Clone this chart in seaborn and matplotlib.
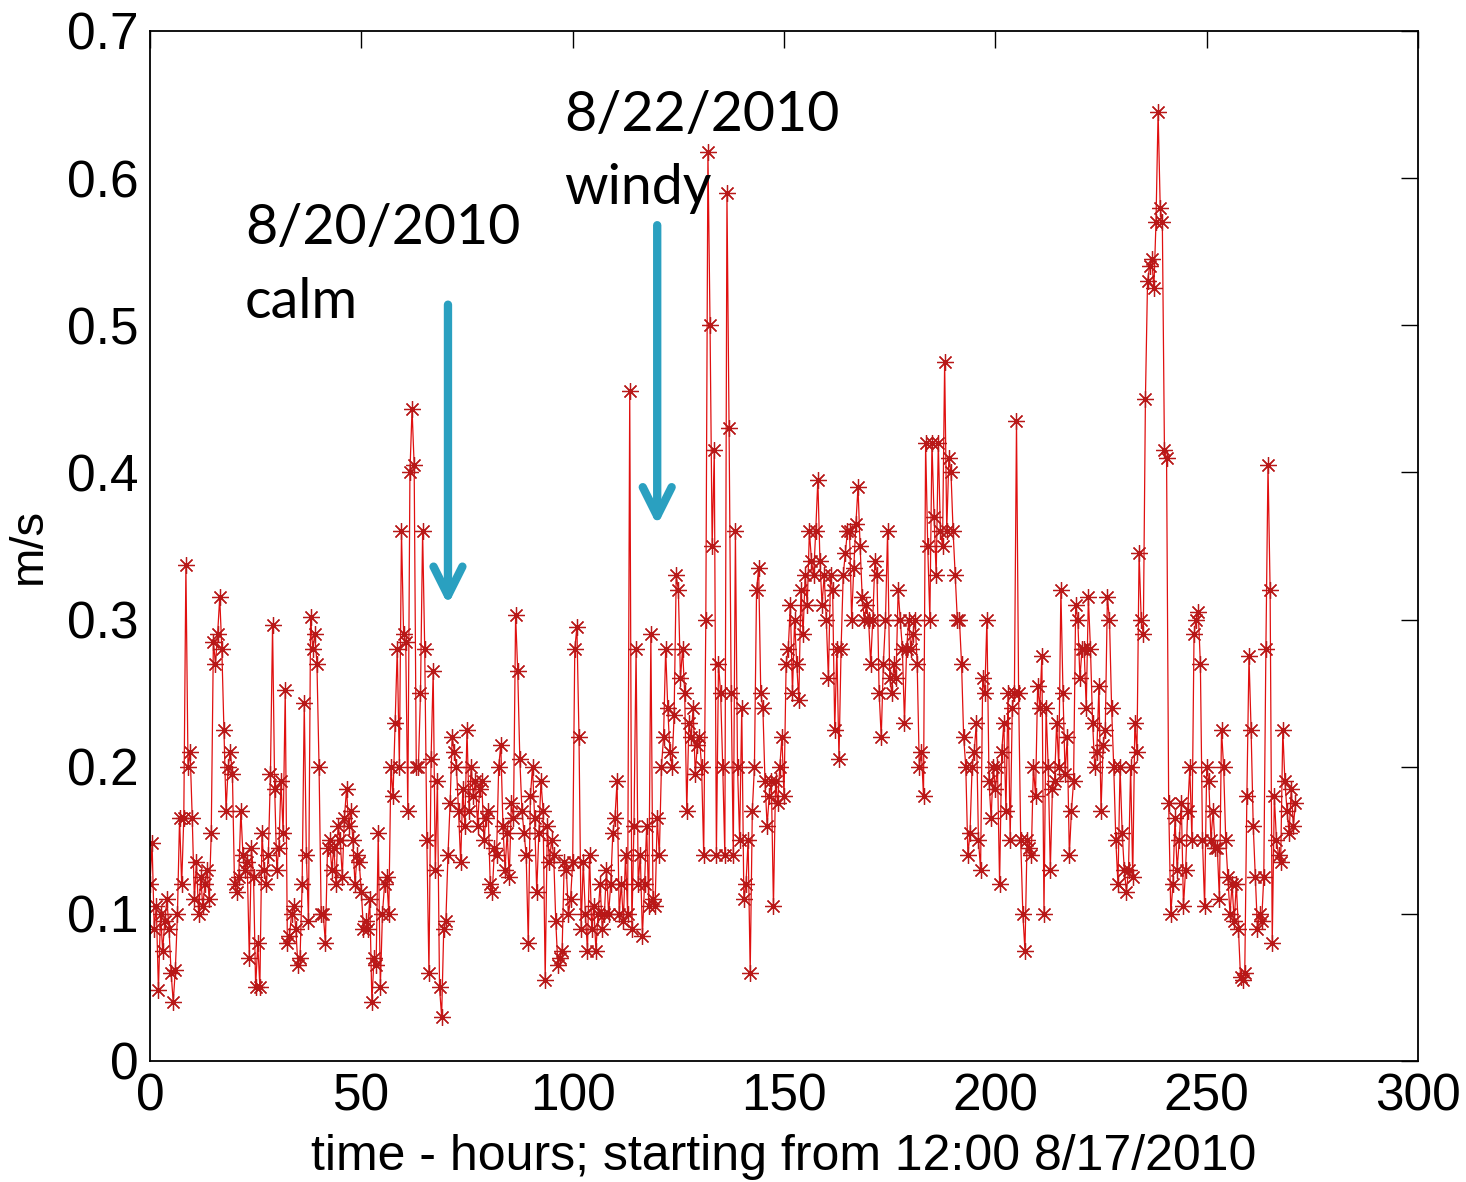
import numpy as np
import pandas as pd
import seaborn as sns
from matplotlib import pyplot as plt

# current speed, one reading every half hour from 12:00 8/17/2010
speed = [
    0.12, 0.148, 0.09, 0.105, 0.048, 0.1, 0.075, 0.095, 0.11, 0.09,
    0.06, 0.04, 0.062, 0.1, 0.165, 0.12, 0.165, 0.337, 0.2, 0.21,
    0.165, 0.11, 0.135, 0.1, 0.125, 0.105, 0.12, 0.13, 0.11, 0.155,
    0.285, 0.27, 0.29, 0.315, 0.28, 0.225, 0.17, 0.2, 0.21, 0.195,
    0.12, 0.115, 0.125, 0.17, 0.14, 0.13, 0.135, 0.07, 0.145, 0.125,
    0.05, 0.08, 0.05, 0.155, 0.13, 0.12, 0.14, 0.195, 0.296, 0.185,
    0.13, 0.145, 0.19, 0.155, 0.252, 0.08, 0.085, 0.1, 0.105, 0.09,
    0.065, 0.07, 0.12, 0.243, 0.14, 0.095, 0.302, 0.28, 0.29, 0.27,
    0.2, 0.1, 0.1, 0.08, 0.145, 0.15, 0.13, 0.145, 0.12, 0.16,
    0.15, 0.125, 0.165, 0.185, 0.16, 0.17, 0.15, 0.12, 0.14, 0.135,
    0.115, 0.09, 0.095, 0.09, 0.11, 0.04, 0.07, 0.065, 0.155, 0.05,
    0.1, 0.12, 0.125, 0.1, 0.2, 0.18, 0.23, 0.28, 0.2, 0.36,
    0.29, 0.285, 0.17, 0.4, 0.443, 0.405, 0.2, 0.2, 0.25, 0.36,
    0.28, 0.15, 0.06, 0.205, 0.265, 0.13, 0.19, 0.05, 0.03, 0.09,
    0.095, 0.14, 0.175, 0.22, 0.21, 0.2, 0.17, 0.135, 0.185, 0.16,
    0.225, 0.17, 0.2, 0.18, 0.19, 0.16, 0.185, 0.19, 0.15, 0.165,
    0.17, 0.12, 0.115, 0.145, 0.14, 0.2, 0.215, 0.16, 0.13, 0.155,
    0.125, 0.175, 0.165, 0.303, 0.265, 0.205, 0.17, 0.155, 0.14, 0.08,
    0.18, 0.2, 0.165, 0.115, 0.155, 0.19, 0.17, 0.055, 0.16, 0.135,
    0.15, 0.14, 0.095, 0.065, 0.07, 0.075, 0.135, 0.13, 0.1, 0.11,
    0.135, 0.28, 0.295, 0.22, 0.09, 0.135, 0.1, 0.075, 0.14, 0.09,
    0.105, 0.075, 0.1, 0.12, 0.09, 0.1, 0.13, 0.1, 0.12, 0.155,
    0.165, 0.19, 0.1, 0.12, 0.095, 0.14, 0.1, 0.455, 0.09, 0.16,
    0.28, 0.12, 0.14, 0.085, 0.12, 0.16, 0.105, 0.29, 0.11, 0.105,
    0.165, 0.14, 0.2, 0.22, 0.28, 0.24, 0.21, 0.2, 0.235, 0.33,
    0.32, 0.26, 0.28, 0.25, 0.17, 0.23, 0.22, 0.24, 0.195, 0.215,
    0.22, 0.2, 0.14, 0.3, 0.618, 0.5, 0.35, 0.415, 0.14, 0.27,
    0.25, 0.2, 0.14, 0.59, 0.43, 0.25, 0.14, 0.36, 0.2, 0.15,
    0.24, 0.11, 0.12, 0.15, 0.06, 0.17, 0.2, 0.32, 0.335, 0.25,
    0.24, 0.19, 0.16, 0.18, 0.19, 0.105, 0.19, 0.175, 0.2, 0.22,
    0.18, 0.27, 0.28, 0.31, 0.25, 0.3, 0.27, 0.245, 0.32, 0.29,
    0.33, 0.31, 0.36, 0.34, 0.33, 0.36, 0.395, 0.34, 0.31, 0.33,
    0.3, 0.26, 0.33, 0.32, 0.225, 0.28, 0.205, 0.28, 0.33, 0.345,
    0.36, 0.36, 0.3, 0.335, 0.365, 0.39, 0.35, 0.315, 0.3, 0.31,
    0.3, 0.27, 0.3, 0.34, 0.33, 0.25, 0.22, 0.27, 0.3, 0.36,
    0.26, 0.25, 0.27, 0.26, 0.32, 0.3, 0.28, 0.23, 0.28, 0.3,
    0.28, 0.29, 0.3, 0.27, 0.2, 0.21, 0.18, 0.42, 0.35, 0.3,
    0.42, 0.37, 0.33, 0.42, 0.36, 0.35, 0.475, 0.36, 0.41, 0.4,
    0.36, 0.33, 0.3, 0.3, 0.27, 0.22, 0.2, 0.14, 0.155, 0.2,
    0.21, 0.23, 0.15, 0.13, 0.26, 0.25, 0.3, 0.19, 0.165, 0.2,
    0.185, 0.2, 0.12, 0.21, 0.23, 0.17, 0.25, 0.15, 0.24, 0.25,
    0.435, 0.25, 0.15, 0.1, 0.075, 0.15, 0.145, 0.14, 0.2, 0.18,
    0.255, 0.24, 0.275, 0.1, 0.24, 0.2, 0.13, 0.185, 0.19, 0.23,
    0.2, 0.32, 0.25, 0.195, 0.22, 0.14, 0.17, 0.19, 0.31, 0.3,
    0.26, 0.28, 0.28, 0.24, 0.315, 0.28, 0.23, 0.2, 0.21, 0.255,
    0.17, 0.215, 0.225, 0.315, 0.3, 0.24, 0.2, 0.15, 0.12, 0.2,
    0.155, 0.13, 0.115, 0.13, 0.2, 0.125, 0.23, 0.21, 0.345, 0.3,
    0.29, 0.45, 0.53, 0.54, 0.545, 0.525, 0.57, 0.645, 0.58, 0.57,
    0.415, 0.41, 0.175, 0.1, 0.12, 0.165, 0.13, 0.15, 0.175, 0.105,
    0.13, 0.17, 0.2, 0.15, 0.29, 0.3, 0.305, 0.27, 0.15, 0.105,
    0.2, 0.19, 0.15, 0.17, 0.145, 0.145, 0.11, 0.225, 0.2, 0.15,
    0.125, 0.1, 0.12, 0.095, 0.12, 0.09, 0.057, 0.055, 0.06, 0.18,
    0.275, 0.225, 0.16, 0.125, 0.09, 0.1, 0.095, 0.125, 0.28, 0.405,
    0.32, 0.08, 0.18, 0.15, 0.14, 0.135, 0.225, 0.19, 0.17, 0.155,
    0.185, 0.16, 0.175,
]
hours = np.arange(len(speed)) * 0.5

x_ticks = [0, 50, 100, 150, 200, 250, 300]
y_ticks = [0, 0.1, 0.2, 0.3, 0.4, 0.5, 0.6, 0.7]
y_tick_labels = ['0', '0.1', '0.2', '0.3', '0.4', '0.5', '0.6', '0.7']

# (text, text x, text top, arrow x, arrow start, arrow end)
notes = [('8/20/2010\ncalm', 22.5, 0.583, 70.5, 0.514, 0.31),
         ('8/22/2010\nwindy', 98.0, 0.66, 120.0, 0.568, 0.364)]

df = pd.DataFrame({'hours': hours, 'speed': speed})

sns.set_style('white')
plt.rcParams['font.family'] = ['Liberation Sans', 'DejaVu Sans']
plt.rcParams['text.color'] = 'black'
plt.rcParams['axes.labelcolor'] = 'black'

fig = plt.figure(figsize=(14.66, 11.82), dpi=100)
ax = fig.add_axes([0.1023, 0.1024, 0.865, 0.8714])

sns.lineplot(data=df, x='hours', y='speed', ax=ax, color='#e01010', lw=0.9,
             marker=(8, 2, 0), markersize=12, markeredgecolor='#b81818',
             markeredgewidth=0.9, estimator=None, sort=False)

ax.set_xlim(0, 300)
ax.set_ylim(0, 0.7)
ax.set_xticks(x_ticks)
ax.set_yticks(y_ticks)
ax.set_yticklabels(y_tick_labels)
ax.tick_params(direction='in', length=12, width=1, top=True, right=True,
               labelsize=37, pad=8, colors='black')
for s in ax.spines.values():
    s.set_color('black')
    s.set_linewidth(1.3)

ax.set_xlabel('time - hours; starting from 12:00 8/17/2010', fontsize=36, labelpad=9)
ax.set_ylabel('m/s', fontsize=34, labelpad=12)

for text, tx, ty, arrow_x, y0, y1 in notes:
    ax.text(tx, ty, text, fontsize=40, family='Lato', color='black',
            va='top', ha='left', linespacing=1.55)
    ax.annotate('', xy=(arrow_x, y1), xytext=(arrow_x, y0),
                arrowprops=dict(arrowstyle='->', color='#2aa0c0', lw=6,
                                mutation_scale=52, shrinkA=0, shrinkB=0))

fig.savefig('out.png', dpi=100)
